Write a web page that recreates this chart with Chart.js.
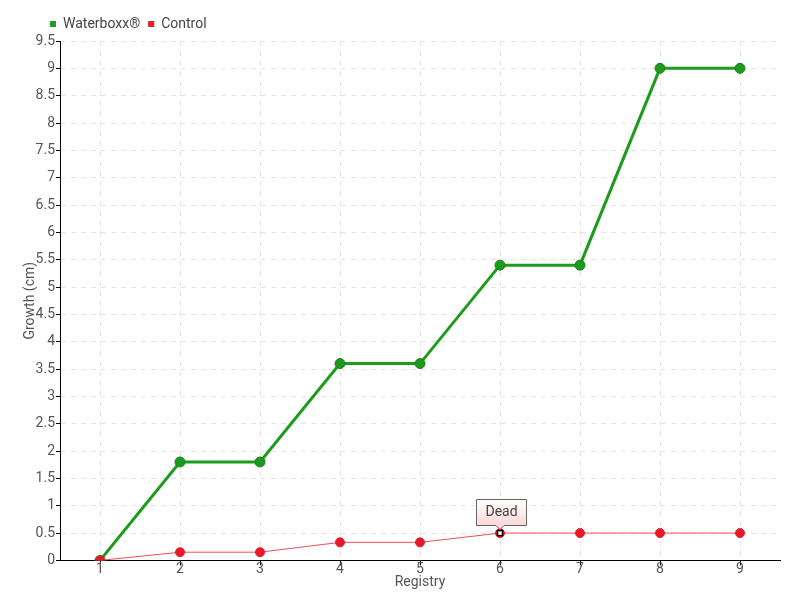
<!DOCTYPE html>
<html>
<head>
<meta charset="utf-8">
<script src="https://cdn.jsdelivr.net/npm/chart.js@4"></script>
<style>
  html, body { margin: 0; padding: 0; background: #fff; }
  #wrap { width: 800px; height: 600px; }
</style>
</head>
<body>
<div id="wrap"><canvas id="growth"></canvas></div>
<script>
var registry = ["1", "2", "3", "4", "5", "6", "7", "8", "9"];
var waterboxx = [0, 1.8, 1.8, 3.6, 3.6, 5.4, 5.4, 9, 9];
var control = [0, 0.15, 0.15, 0.33, 0.33, 0.5, 0.5, 0.5, 0.5];
var deadIndex = 5;
var deadText = "Dead";

var fontFamily = 'Roboto, "Liberation Sans", sans-serif';
Chart.defaults.font.family = fontFamily;
Chart.defaults.color = '#444';

// draws the "Dead" callout above the control point
var deadLabel = {
    id: 'deadLabel',
    afterLayout: function (chart) {
        // shift legend to the right like the original
        var lg = chart.legend;
        if (lg) { lg.left += 20; lg.right += 20; }
    },
    afterDatasetsDraw: function (chart) {
        var pt = chart.getDatasetMeta(1).data[deadIndex];
        if (!pt) return;
        var ctx = chart.ctx;
        var x = pt.x, y = pt.y;
        ctx.save();
        // marker
        ctx.fillStyle = '#fff';
        ctx.strokeStyle = '#000';
        ctx.lineWidth = 1.5;
        ctx.fillRect(x - 2.5, y - 2.5, 5, 5);
        ctx.strokeRect(x - 2.5, y - 2.5, 5, 5);
        // box
        var w = 50, h = 26;
        var left = Math.round(x - 24) + 0.5, top = Math.round(y - 34) + 0.5;
        var grad = ctx.createLinearGradient(0, top, 0, top + h);
        grad.addColorStop(0, '#ffffff');
        grad.addColorStop(1, '#fcd6d6');
        ctx.beginPath();
        ctx.moveTo(left, top);
        ctx.lineTo(left + w, top);
        ctx.lineTo(left + w, top + h);
        ctx.lineTo(x + 4, top + h);
        ctx.lineTo(x, top + h + 4);
        ctx.lineTo(x - 4, top + h);
        ctx.lineTo(left, top + h);
        ctx.closePath();
        ctx.fillStyle = grad;
        ctx.fill();
        ctx.strokeStyle = '#666';
        ctx.lineWidth = 1;
        ctx.stroke();
        ctx.fillStyle = '#444';
        ctx.font = '14px ' + fontFamily;
        ctx.textAlign = 'center';
        ctx.textBaseline = 'middle';
        ctx.fillText(deadText, left + w / 2, top + h / 2);
        ctx.restore();
    }
};

var ctx = document.getElementById('growth').getContext('2d');
var chart = new Chart(ctx, {
    type: 'line',
    data: {
        labels: registry,
        datasets: [{
            label: 'Waterboxx®',
            data: waterboxx,
            order: 1,
            borderColor: '#1c9c1c',
            backgroundColor: '#1ea01e',
            borderWidth: 3,
            pointRadius: 5,
            pointBackgroundColor: '#1d9a1d',
            pointBorderColor: '#188418',
            pointBorderWidth: 1,
            tension: 0
        }, {
            label: 'Control',
            data: control,
            order: 0,
            borderColor: '#f04a5a',
            backgroundColor: '#e8192c',
            borderWidth: 1,
            pointRadius: 4.5,
            pointBackgroundColor: '#e8192c',
            pointBorderColor: '#e8192c',
            pointBorderWidth: 1,
            tension: 0
        }]
    },
    options: {
        responsive: true,
        maintainAspectRatio: false,
        animation: false,
        layout: { padding: { left: 22, right: 20, top: 9, bottom: 9 } },
        plugins: {
            tooltip: { enabled: false },
            legend: {
                position: 'top',
                align: 'start',
                labels: {
                    boxWidth: 6,
                    boxHeight: 6,
                    padding: 8,
                    font: { size: 14 },
                    color: '#444',
                    generateLabels: function (chart) {
                        return chart.data.datasets.map(function (ds, i) {
                            return {
                                text: ds.label,
                                fillStyle: ds.backgroundColor,
                                strokeStyle: ds.backgroundColor,
                                lineWidth: 0,
                                datasetIndex: i,
                                fontColor: '#444'
                            };
                        });
                    }
                }
            }
        },
        scales: {
            x: {
                offset: true,
                grid: { color: '#e3e3e3', tickColor: '#000', tickLength: 5, offset: false },
                border: { display: true, color: '#000', width: 1, dash: [5, 5] },
                ticks: { font: { size: 14 }, color: '#555', padding: -4, maxRotation: 0 },
                title: { display: true, text: 'Registry', font: { size: 14 }, color: '#555', padding: { top: 0, bottom: 0 } }
            },
            y: {
                min: 0,
                max: 9.5,
                grid: { color: '#e3e3e3', tickColor: '#000', tickLength: 4 },
                border: { display: true, color: '#000', width: 1, dash: [5, 5] },
                ticks: {
                    stepSize: 0.5, font: { size: 14 }, color: '#555', padding: 1,
                    callback: function (v) { return String(v); }
                },
                title: { display: true, text: 'Growth (cm)', font: { size: 14 }, color: '#555', padding: 0 },
                afterFit: function (s) { s.width = 38; }
            }
        }
    },
    plugins: [deadLabel]
});
</script>
</body>
</html>
